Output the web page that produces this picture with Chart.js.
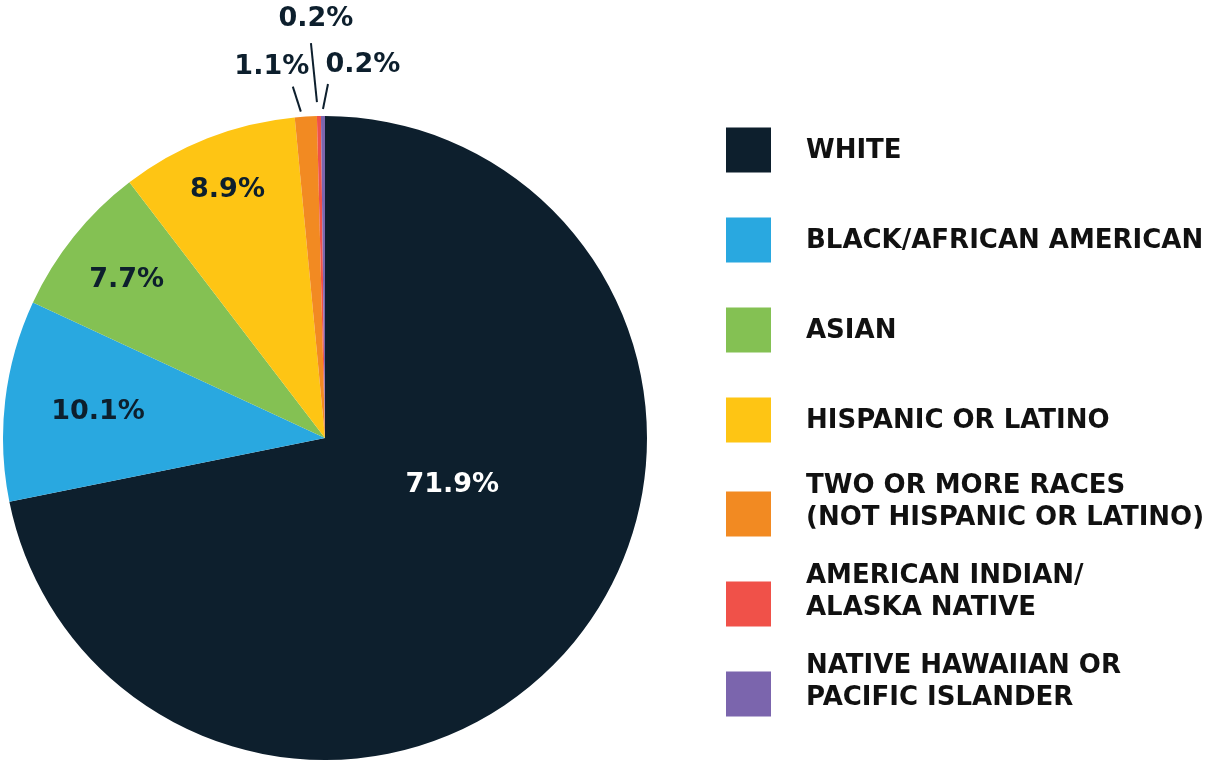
<!DOCTYPE html>
<html lang="en">
<head>
<meta charset="UTF-8">
<title>Race / ethnicity</title>
<script src="https://cdn.jsdelivr.net/npm/chart.js@4"></script>
<style>
  * { margin: 0; padding: 0; box-sizing: border-box; }
  body { background: #fff; width: 1208px; height: 761px; overflow: hidden; }
  #wrap { position: relative; width: 1208px; height: 761px; }
</style>
</head>
<body>
<div id="wrap"><canvas id="pie"></canvas></div>
<script>
// data
const categories = ['WHITE', 'BLACK/AFRICAN AMERICAN', 'ASIAN', 'HISPANIC OR LATINO',
  'TWO OR MORE RACES (NOT HISPANIC OR LATINO)', 'AMERICAN INDIAN/ ALASKA NATIVE',
  'NATIVE HAWAIIAN OR PACIFIC ISLANDER'];
const legendLines = [
  ['WHITE'],
  ['BLACK/AFRICAN AMERICAN'],
  ['ASIAN'],
  ['HISPANIC OR LATINO'],
  ['TWO OR MORE RACES', '(NOT HISPANIC OR LATINO)'],
  ['AMERICAN INDIAN/', 'ALASKA NATIVE'],
  ['NATIVE HAWAIIAN OR', 'PACIFIC ISLANDER']
];
const shares = [71.9, 10.1, 7.7, 8.9, 1.1, 0.2, 0.2];
const sliceColors = ['#0d1f2d', '#29a8e0', '#84c153', '#fec514', '#f28a22', '#f05149', '#7b65ad'];

const FONT = '"DejaVu Sans", sans-serif';
const DARK = '#0d1f2d';

// percentage labels, inside for big slices, with leader lines for small ones
const sliceLabels = {
  id: 'sliceLabels',
  afterDatasetsDraw(chart) {
    const ctx = chart.ctx;
    const arcs = chart.getDatasetMeta(0).data;
    // radius fraction + angle shift for the inside labels
    const inside = [[0.42, -0.34], [0.71, 0], [0.79, 0], [0.83, 0]];
    // offsets from the arc's mid point on the rim: line end, line start, text
    const outside = {
      4: [[-5, -5], [-13, -30], [-34, -51]],
      5: [[-2, -14], [-8, -73], [-3, -98]],
      6: [[0, -7], [5, -32], [40, -52]]
    };
    ctx.save();
    ctx.font = 'bold 27px ' + FONT;
    ctx.textAlign = 'center';
    ctx.textBaseline = 'middle';
    arcs.forEach((arc, i) => {
      const p = arc.getProps(['x', 'y', 'startAngle', 'endAngle', 'outerRadius'], true);
      const mid = (p.startAngle + p.endAngle) / 2;
      const txt = shares[i].toFixed(1) + '%';
      if (inside[i]) {
        const a = mid + inside[i][1];
        const r = p.outerRadius * inside[i][0];
        ctx.fillStyle = i === 0 ? '#fff' : DARK;
        ctx.fillText(txt, p.x + Math.cos(a) * r, p.y + Math.sin(a) * r + 1);
      } else if (outside[i]) {
        const rx = p.x + Math.cos(mid) * p.outerRadius;
        const ry = p.y + Math.sin(mid) * p.outerRadius;
        const o = outside[i];
        ctx.strokeStyle = DARK;
        ctx.lineWidth = 2;
        ctx.beginPath();
        ctx.moveTo(rx + o[1][0], ry + o[1][1]);
        ctx.lineTo(rx + o[0][0], ry + o[0][1]);
        ctx.stroke();
        ctx.fillStyle = DARK;
        ctx.fillText(txt, rx + o[2][0], ry + o[2][1] + 1);
      }
    });
    ctx.restore();
  }
};

// legend on the right, drawn from the same labels and colours
const sideLegend = {
  id: 'sideLegend',
  afterDraw(chart) {
    const ctx = chart.ctx;
    const rows = [150, 240, 330, 420, 514, 604, 694];
    ctx.save();
    ctx.font = 'bold 26px ' + FONT;
    ctx.textBaseline = 'middle';
    ctx.textAlign = 'left';
    legendLines.forEach((lines, i) => {
      const cy = rows[i];
      ctx.fillStyle = sliceColors[i];
      ctx.fillRect(726, cy - 22.5, 45, 45);
      ctx.fillStyle = '#111';
      if (lines.length === 1) {
        ctx.fillText(lines[0], 806, cy + 1);
      } else {
        ctx.fillText(lines[0], 806, cy - 28);
        ctx.fillText(lines[1], 806, cy + 4);
      }
    });
    ctx.restore();
  }
};

new Chart(document.getElementById('pie'), {
  type: 'pie',
  data: {
    labels: categories,
    datasets: [{
      data: shares,
      backgroundColor: sliceColors,
      borderWidth: 0
    }]
  },
  options: {
    responsive: true,
    maintainAspectRatio: false,
    animation: false,
    layout: { padding: { left: 3, right: 561, top: 116, bottom: 1 } },
    plugins: {
      legend: { display: false },
      tooltip: { enabled: false }
    }
  },
  plugins: [sliceLabels, sideLegend]
});
</script>
</body>
</html>
